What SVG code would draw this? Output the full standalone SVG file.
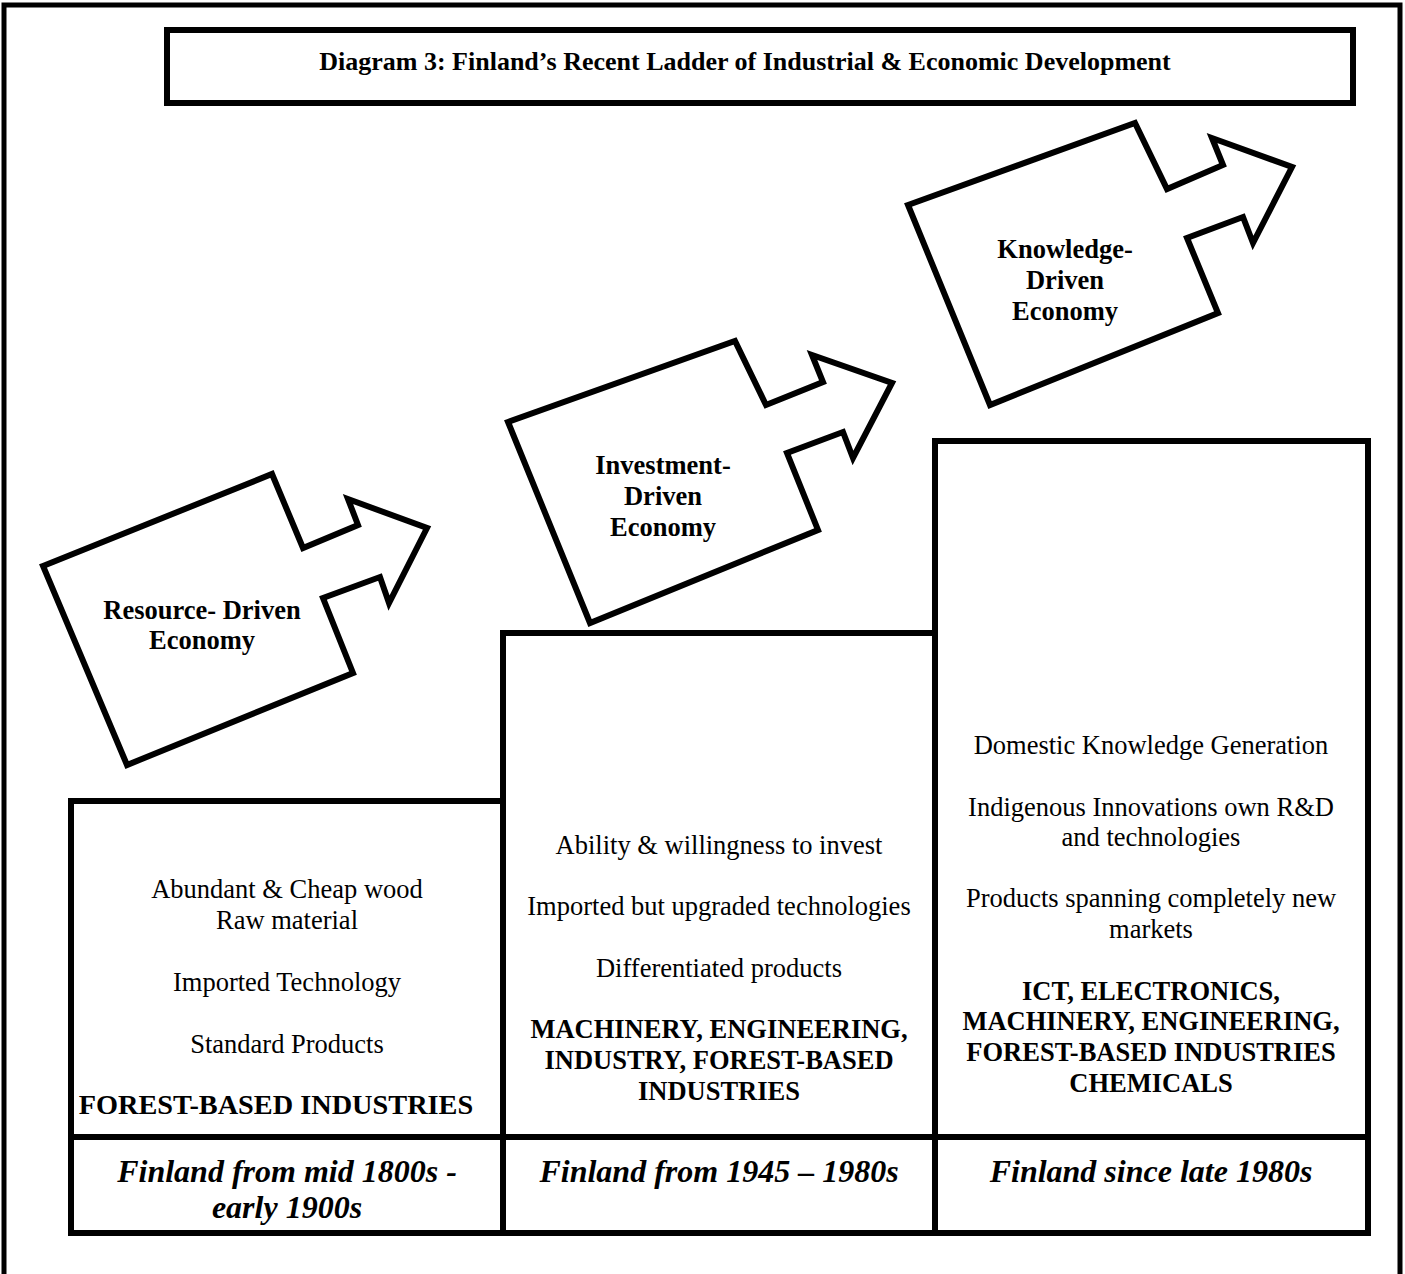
<svg xmlns="http://www.w3.org/2000/svg" width="1405" height="1274" viewBox="0 0 1405 1274">
<style>
.ln{fill:none;stroke:#000;stroke-width:6;stroke-linejoin:miter;stroke-linecap:square}
.sh{fill:#fff;stroke:#000;stroke-width:6;stroke-linejoin:miter}
text{font-family:"Liberation Serif","Times New Roman",serif;fill:#000;text-anchor:middle}
.t{font-size:26.5px}
.b{font-size:26.5px;font-weight:bold}
.h{font-size:26px;font-weight:bold}
.i{font-size:32px;font-weight:bold;font-style:italic}
</style>
<rect x="0" y="0" width="1405" height="1274" fill="#fff"/>
<g id="frame">
<polyline class="ln" points="4,1274 4,5 1400,5 1400,1274" style="stroke-linecap:butt;stroke-width:5"/>
</g>
<g id="title">
<rect class="sh" x="167" y="30" width="1186" height="73"/>
<text class="h" x="745" y="70">Diagram 3: Finland’s Recent Ladder of Industrial &amp; Economic Development</text>
</g>
<g id="arrow1">
<polygon class="sh" points="43,566 272,474 303,548 358,525 348,499 427,528 389,603 380,577 323,598 353,673 127,765"/>
<text class="b" x="202" y="619">Resource- Driven</text>
<text class="b" x="202" y="649">Economy</text>
</g>
<g id="arrow2">
<polygon class="sh" points="508,422 735,341 766,405 823,382 812,355 892,383 853,458 843,432 787,453 818,530 590,623"/>
<text class="b" x="663" y="474">Investment-</text>
<text class="b" x="663" y="505">Driven</text>
<text class="b" x="663" y="536">Economy</text>
</g>
<g id="arrow3">
<polygon class="sh" points="908,205 1135,123 1167,189 1223,165 1212,138 1292,167 1253,243 1243,217 1187,238 1218,313 990,405"/>
<text class="b" x="1065" y="258">Knowledge-</text>
<text class="b" x="1065" y="289">Driven</text>
<text class="b" x="1065" y="320">Economy</text>
</g>
<g id="stage1">
<polyline class="ln" points="71,1137 71,801 503,801"/>
<text class="t" x="287" y="898">Abundant &amp; Cheap wood</text>
<text class="t" x="287" y="929">Raw material</text>
<text class="t" x="287" y="991">Imported Technology</text>
<text class="t" x="287" y="1053">Standard Products</text>
<text class="b" x="276" y="1114" style="font-size:28.3px">FOREST-BASED INDUSTRIES</text>
</g>
<g id="stage2">
<polyline class="ln" points="503,1137 503,633 935,633"/>
<text class="t" x="719" y="854">Ability &amp; willingness to invest</text>
<text class="t" x="719" y="915">Imported but upgraded technologies</text>
<text class="t" x="719" y="977">Differentiated products</text>
<text class="b" x="719" y="1038">MACHINERY, ENGINEERING,</text>
<text class="b" x="719" y="1069">INDUSTRY, FOREST-BASED</text>
<text class="b" x="719" y="1100">INDUSTRIES</text>
</g>
<g id="stage3">
<polyline class="ln" points="935,1137 935,441 1368,441 1368,1137"/>
<text class="t" x="1151" y="754">Domestic Knowledge Generation</text>
<text class="t" x="1151" y="816">Indigenous Innovations own R&amp;D</text>
<text class="t" x="1151" y="846">and technologies</text>
<text class="t" x="1151" y="907">Products spanning completely new</text>
<text class="t" x="1151" y="938">markets</text>
<text class="b" x="1151" y="1000">ICT, ELECTRONICS,</text>
<text class="b" x="1151" y="1030">MACHINERY, ENGINEERING,</text>
<text class="b" x="1151" y="1061">FOREST-BASED INDUSTRIES</text>
<text class="b" x="1151" y="1092">CHEMICALS</text>
</g>
<g id="periods">
<rect class="ln" x="71" y="1137" width="1297" height="96"/>
<line class="ln" x1="503" y1="1137" x2="503" y2="1233"/>
<line class="ln" x1="935" y1="1137" x2="935" y2="1233"/>
<text class="i" x="287" y="1182">Finland from mid 1800s -</text>
<text class="i" x="287" y="1218">early 1900s</text>
<text class="i" x="719" y="1182">Finland from 1945 – 1980s</text>
<text class="i" x="1151" y="1182">Finland since late 1980s</text>
</g>
</svg>
